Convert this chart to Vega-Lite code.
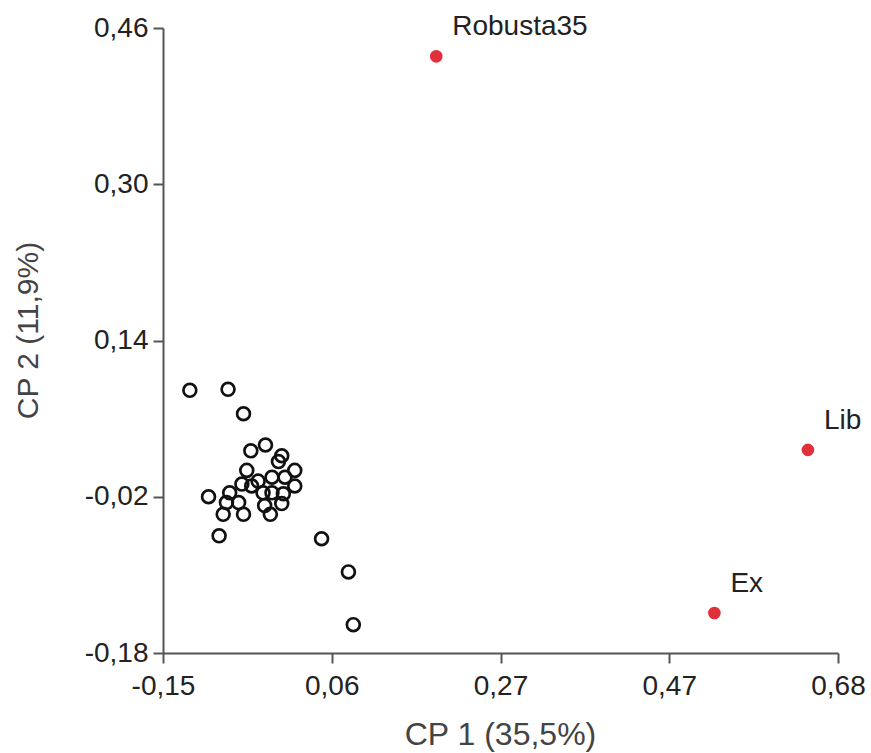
{
  "$schema": "https://vega.github.io/schema/vega-lite/v6.json",
  "width": 675,
  "height": 625,
  "autosize": "none",
  "padding": {"left": 163, "top": 28, "right": 33, "bottom": 100},
  "background": "white",
  "config": {"view": {"stroke": null}, "font": "Liberation Sans"},
  "data": {"values": [
    {"x": -0.117, "y": 0.089, "grp": "acc", "label": ""},
    {"x": -0.070, "y": 0.090, "grp": "acc", "label": ""},
    {"x": -0.051, "y": 0.065, "grp": "acc", "label": ""},
    {"x": -0.094, "y": -0.020, "grp": "acc", "label": ""},
    {"x": -0.081, "y": -0.060, "grp": "acc", "label": ""},
    {"x": 0.045, "y": -0.063, "grp": "acc", "label": ""},
    {"x": -0.024, "y": 0.033, "grp": "acc", "label": ""},
    {"x": -0.042, "y": 0.027, "grp": "acc", "label": ""},
    {"x": -0.004, "y": 0.022, "grp": "acc", "label": ""},
    {"x": -0.008, "y": 0.016, "grp": "acc", "label": ""},
    {"x": -0.047, "y": 0.007, "grp": "acc", "label": ""},
    {"x": 0.012, "y": 0.007, "grp": "acc", "label": ""},
    {"x": -0.016, "y": 0.000, "grp": "acc", "label": ""},
    {"x": 0.000, "y": 0.000, "grp": "acc", "label": ""},
    {"x": 0.012, "y": -0.009, "grp": "acc", "label": ""},
    {"x": -0.041, "y": -0.009, "grp": "acc", "label": ""},
    {"x": -0.053, "y": -0.007, "grp": "acc", "label": ""},
    {"x": -0.068, "y": -0.016, "grp": "acc", "label": ""},
    {"x": -0.027, "y": -0.016, "grp": "acc", "label": ""},
    {"x": -0.002, "y": -0.017, "grp": "acc", "label": ""},
    {"x": -0.072, "y": -0.026, "grp": "acc", "label": ""},
    {"x": -0.057, "y": -0.026, "grp": "acc", "label": ""},
    {"x": -0.025, "y": -0.029, "grp": "acc", "label": ""},
    {"x": -0.004, "y": -0.027, "grp": "acc", "label": ""},
    {"x": -0.076, "y": -0.038, "grp": "acc", "label": ""},
    {"x": -0.051, "y": -0.038, "grp": "acc", "label": ""},
    {"x": -0.018, "y": -0.038, "grp": "acc", "label": ""},
    {"x": -0.033, "y": -0.004, "grp": "acc", "label": ""},
    {"x": -0.016, "y": -0.016, "grp": "acc", "label": ""},
    {"x": 0.078, "y": -0.097, "grp": "acc", "label": ""},
    {"x": 0.084, "y": -0.151, "grp": "acc", "label": ""},
    {"x": 0.186, "y": 0.431, "grp": "ref", "label": "Robusta35"},
    {"x": 0.643, "y": 0.028, "grp": "ref", "label": "Lib"},
    {"x": 0.528, "y": -0.139, "grp": "ref", "label": "Ex"}
  ]},
  "encoding": {
    "x": {
      "field": "x", "type": "quantitative",
      "scale": {"domain": [-0.15, 0.68], "nice": false, "zero": false},
      "axis": {
        "title": "CP 1 (35,5%)",
        "values": [-0.15, 0.0575, 0.265, 0.4725, 0.68],
        "labelExpr": "replace(replace(format(datum.value + 0.0001, '.2f'), '.', ','), '\u2212', '-')",
        "grid": false, "domainColor": "#555", "domainWidth": 2,
        "tickColor": "#555", "tickWidth": 2, "tickSize": 10,
        "labelFontSize": 28, "labelColor": "#222", "labelPadding": 9,
        "labelFont": "Liberation Sans", "labelFlush": false, "labelOverlap": false,
        "titleFontSize": 32, "titleColor": "#444", "titleFontWeight": "normal",
        "titleFont": "Liberation Sans",
        "titleX": 337, "titleY": 81, "titleBaseline": "middle", "titleAlign": "center"
      }
    },
    "y": {
      "field": "y", "type": "quantitative",
      "scale": {"domain": [-0.18, 0.46], "nice": false, "zero": false},
      "axis": {
        "title": "CP 2 (11,9%)",
        "values": [-0.18, -0.02, 0.14, 0.30, 0.46],
        "labelExpr": "replace(replace(format(datum.value + 0.0001, '.2f'), '.', ','), '\u2212', '-')",
        "grid": false, "domainColor": "#555", "domainWidth": 2,
        "tickColor": "#555", "tickWidth": 2, "tickSize": 10,
        "labelFontSize": 28, "labelColor": "#222", "labelPadding": 5,
        "labelFont": "Liberation Sans", "labelFlush": false, "labelOverlap": false,
        "titleFontSize": 30, "titleColor": "#444", "titleFontWeight": "normal",
        "titleFont": "Liberation Sans",
        "titleX": -135, "titleY": 302, "titleAngle": -90, "titleBaseline": "middle", "titleAlign": "center"
      }
    }
  },
  "layer": [
    {
      "transform": [{"filter": "datum.grp == 'acc'"}],
      "mark": {"type": "point", "shape": "circle", "filled": false, "stroke": "#111", "strokeWidth": 2.7, "size": 165, "opacity": 1}
    },
    {
      "transform": [{"filter": "datum.grp == 'ref'"}],
      "mark": {"type": "point", "shape": "circle", "filled": true, "color": "#e0303c", "size": 160, "opacity": 1}
    },
    {
      "transform": [{"filter": "datum.grp == 'ref'"}],
      "mark": {"type": "text", "align": "left", "baseline": "middle", "dx": 16, "dy": -29, "fontSize": 28, "color": "#222", "font": "Liberation Sans"},
      "encoding": {"text": {"field": "label"}}
    }
  ]
}
